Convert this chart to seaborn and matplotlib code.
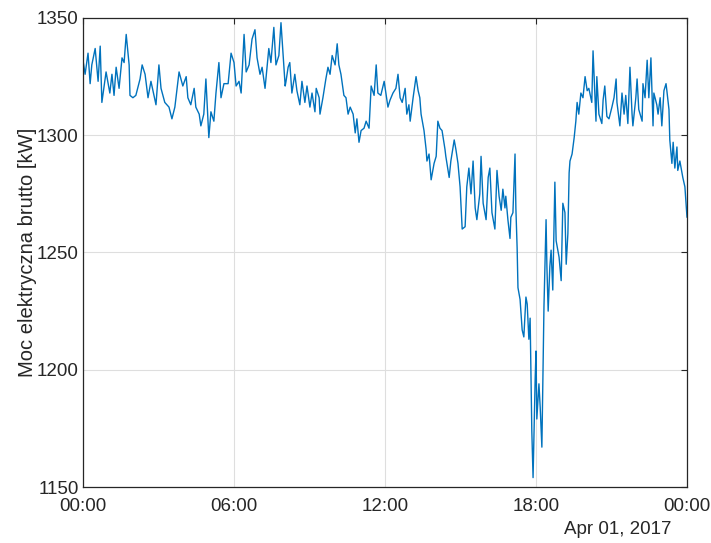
import numpy as np
import pandas as pd
import matplotlib
matplotlib.use("Agg")
import matplotlib.pyplot as plt
import matplotlib.dates as mdates
import seaborn as sns

# Gross electric power over one day, sampled as minutes after midnight
minutes = [
    0, 5, 12, 17, 21, 29, 36, 41, 45, 55, 64, 69, 74, 79, 86, 93, 98, 103, 110, 112,
    119, 126, 136, 141, 148, 155, 162, 174, 181, 186, 195, 205, 212, 219, 229, 238,
    246, 250, 257, 265, 269, 277, 281, 288, 293, 300, 305, 312, 317, 324, 329, 336,
    346, 353, 360, 365, 372, 377, 384, 389, 396, 403, 410, 415, 422, 427, 434, 443,
    448, 455, 460, 467, 472, 482,
    484, 489, 493, 498, 505, 510, 517, 522, 529, 534, 541, 546, 553, 556, 563, 565,
    572, 579, 584, 589, 594, 601, 606, 610, 615, 622, 627, 632, 637, 644, 649, 653,
    658, 663, 670, 675, 682, 687, 694, 699, 703, 710, 718,
    722, 727, 732, 739, 746, 751, 756, 761, 768, 772, 777, 780, 787, 794, 799, 803,
    806, 813, 818, 820, 825, 830, 837, 842, 846, 851, 856, 863, 865, 873, 877, 885,
    889, 894, 899, 904, 911, 915, 920, 925, 930, 935, 939, 946, 949, 954,
    961, 966, 970, 975, 982, 987, 992, 997, 1001, 1006, 1008, 1013, 1018, 1020, 1025,
    1030, 1032, 1035, 1037, 1042, 1047, 1051, 1056, 1059, 1063, 1066, 1070, 1073,
    1078, 1080, 1082, 1087, 1090, 1094, 1099, 1104, 1106, 1109, 1113, 1116, 1120,
    1125, 1128, 1135, 1140, 1144, 1149, 1152, 1156, 1159, 1161, 1166, 1171, 1175,
    1178, 1182, 1187, 1192, 1197, 1202, 1206, 1213, 1216, 1223, 1225, 1230, 1237,
    1240, 1244, 1249, 1254, 1261, 1266, 1271, 1273, 1280, 1285, 1290, 1294, 1299,
    1304, 1309, 1311, 1318, 1321, 1325, 1333, 1335, 1340, 1345, 1349, 1354, 1359,
    1361, 1368, 1371, 1376, 1380, 1385, 1390, 1392, 1397, 1399, 1404, 1407, 1411,
    1416, 1418, 1423, 1430, 1435, 1440,
]
power_kw = [
    1332, 1326, 1335, 1322, 1330, 1337, 1323, 1338, 1314, 1327, 1318, 1326, 1317, 1329, 1320, 1333, 1331, 1343, 1330, 1317,
    1316, 1317, 1324, 1330, 1326, 1316, 1323, 1313, 1330, 1320, 1314, 1312, 1307, 1312, 1327, 1321,
    1325, 1316, 1313, 1320, 1312, 1309, 1304, 1309, 1324, 1299, 1310, 1306, 1318, 1331, 1316, 1322,
    1322, 1335, 1331, 1321, 1323, 1318, 1343, 1327, 1330, 1341, 1345, 1333, 1326, 1329, 1320, 1337,
    1331, 1346, 1330, 1334, 1348, 1321,
    1323, 1329, 1331, 1318, 1326, 1319, 1313, 1323, 1314, 1321, 1312, 1318, 1310, 1320, 1316, 1309,
    1316, 1324, 1329, 1326, 1334, 1330, 1339, 1330, 1326, 1317, 1316, 1309, 1312, 1309, 1301, 1307,
    1297, 1302, 1303, 1306, 1303, 1321, 1317, 1330, 1318, 1317, 1323,
    1318, 1312, 1315, 1318, 1320, 1326, 1316, 1314, 1320, 1309, 1313, 1306, 1316, 1325, 1319, 1316,
    1309, 1302, 1294, 1289, 1292, 1281, 1288, 1291, 1306, 1303, 1302, 1294, 1291, 1282, 1289, 1298,
    1294, 1288, 1278, 1260, 1261, 1278, 1286, 1275, 1289, 1269, 1264, 1275, 1291, 1271,
    1264, 1282, 1286, 1267, 1260, 1285, 1274, 1268, 1277, 1269, 1274, 1264, 1256, 1265, 1267,
    1292, 1269, 1252, 1235, 1230, 1217, 1214, 1231, 1228, 1213, 1222, 1174, 1154,
    1196, 1208, 1179, 1194, 1184, 1167, 1227, 1264, 1244, 1225, 1244, 1251, 1234,
    1280, 1255, 1248, 1238, 1271, 1267, 1245, 1258, 1284, 1289, 1292, 1299, 1306,
    1314, 1309, 1318, 1316, 1325, 1319, 1320, 1314, 1336, 1306, 1325, 1309, 1305,
    1315, 1321, 1308, 1307, 1312, 1316, 1324, 1314, 1304, 1318, 1309, 1317, 1305,
    1329, 1309, 1304, 1316, 1324, 1311, 1306, 1322, 1316, 1332, 1316, 1333, 1304,
    1318, 1313, 1309, 1316, 1304, 1319, 1322, 1319, 1311, 1298, 1288, 1297, 1286,
    1295, 1285, 1289, 1282, 1278, 1265,
]

day_start = pd.Timestamp("2017-04-01 00:00")
df = pd.DataFrame({
    "time": day_start + pd.to_timedelta(minutes, unit="min"),
    "power": power_kw,
})

y_ticks = [1150, 1200, 1250, 1300, 1350]
x_tick_labels = ["00:00", "06:00", "12:00", "18:00", "00:00"]
date_label = "Apr 01, 2017"
y_label = "Moc elektryczna brutto [kW]"

sns.set_style("white")
plt.rcParams["font.family"] = ["Liberation Sans", "DejaVu Sans"]

W, H = 711, 543
fig = plt.figure(figsize=(W / 100, H / 100), dpi=100)
ax = fig.add_axes([83 / W, (H - 487) / H, 604 / W, 469 / H])

sns.lineplot(data=df, x="time", y="power", ax=ax, color="#0072BD",
             linewidth=1.0, estimator=None)

x_ticks = [day_start + pd.Timedelta(hours=6 * i) for i in range(5)]
ax.set_xlim(x_ticks[0], x_ticks[-1])
ax.set_ylim(y_ticks[0], y_ticks[-1])
ax.set_xticks(x_ticks)
ax.set_xticklabels(x_tick_labels)
ax.set_yticks(y_ticks)
ax.set_yticklabels([str(v) for v in y_ticks])

ax.grid(True, color="#dedede", linewidth=0.8)
ax.set_axisbelow(True)
for s in ax.spines.values():
    s.set_color("#262626")
    s.set_linewidth(0.9)
ax.tick_params(direction="in", top=True, right=True, length=4, width=0.8,
               color="#262626", labelsize=13.5, labelcolor="#262626")
ax.tick_params(axis="x", pad=8)
ax.tick_params(axis="y", pad=3)
ax.set_xlabel("")
ax.set_ylabel(y_label, fontsize=14.5, color="#262626")
ax.yaxis.set_label_coords((37 - 83) / 604, 0.5)

fig.text(672 / W, 1 - 530 / H, date_label, ha="right", va="center",
         fontsize=13.5, color="#262626")

fig.savefig("out.png", dpi=100, facecolor="white")
